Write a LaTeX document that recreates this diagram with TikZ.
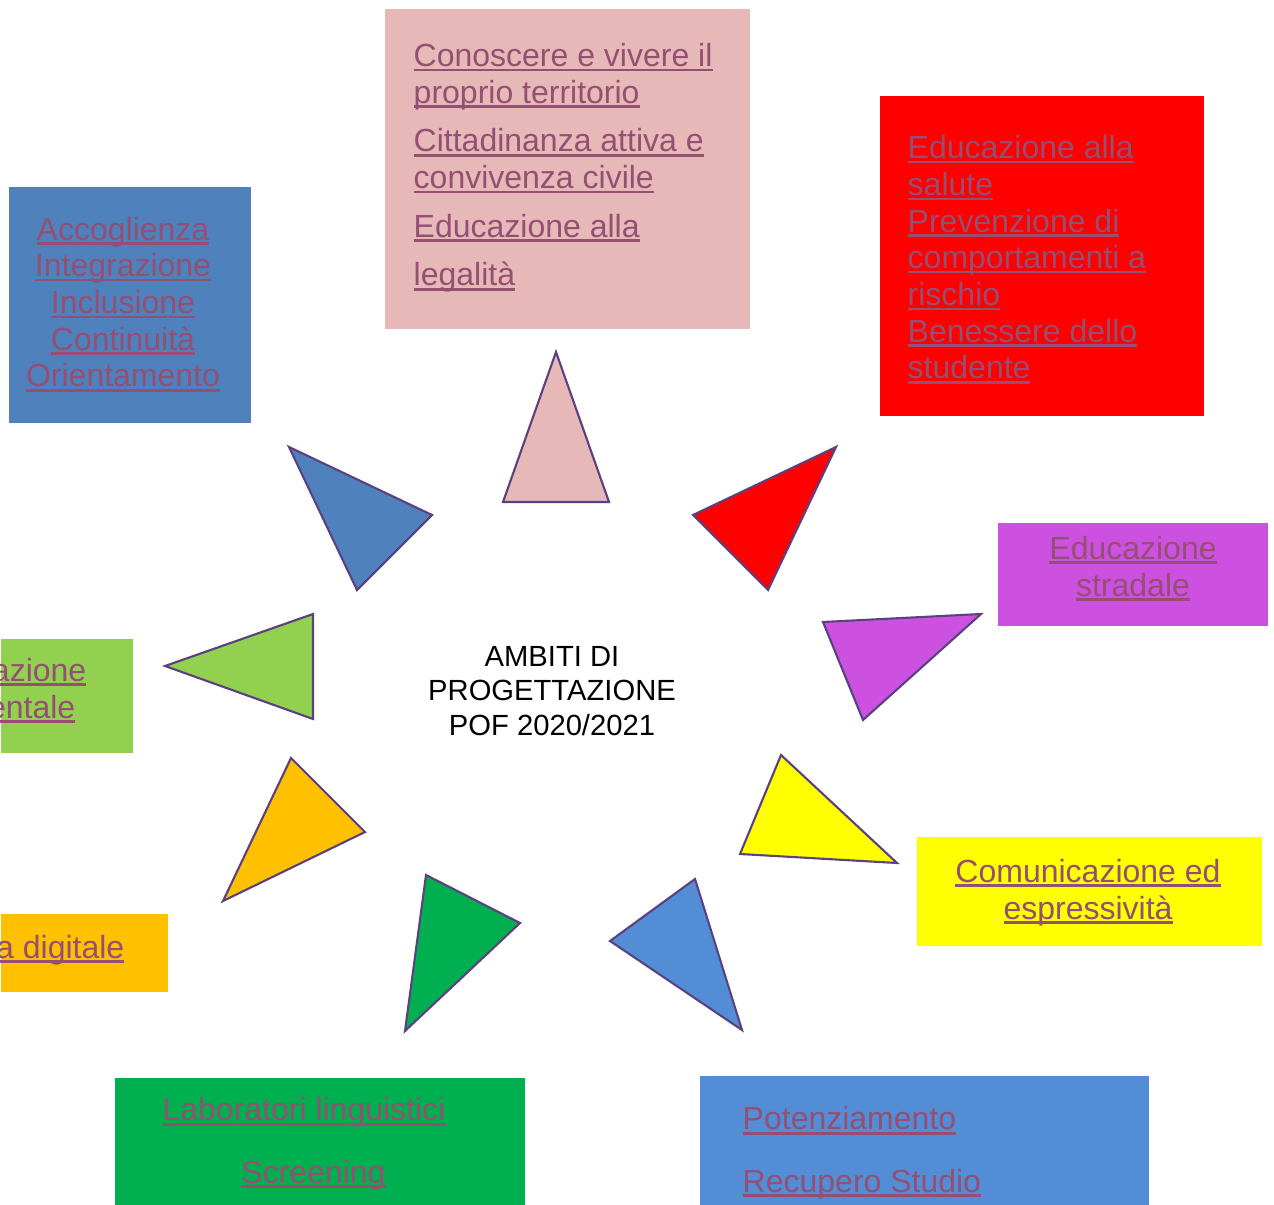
\documentclass[tikz,border=0pt]{standalone}
\usepackage{fontspec}
\setmainfont{Liberation Sans}
\usepackage{tikz}

\definecolor{linkcol}{HTML}{954F72}
\definecolor{trioutline}{HTML}{5B4180}
\definecolor{rosa}{HTML}{E6B8B7}
\definecolor{rosso}{HTML}{FF0000}
\definecolor{blu}{HTML}{4F81BD}
\definecolor{viola}{HTML}{CD51E1}
\definecolor{giallo}{HTML}{FFFF00}
\definecolor{azzurro}{HTML}{538DD5}
\definecolor{verde}{HTML}{00B050}
\definecolor{arancio}{HTML}{FFC000}
\definecolor{verdechiaro}{HTML}{92D050}

% underlined link text, one line at a time
\newcommand\ulink[1]{\leavevmode\setbox0\hbox{#1}\rlap{\rule[-0.145em]{\wd0}{0.08em}}\box0}

\begin{document}
\begin{tikzpicture}[x=0.01cm,y=-0.01cm,
    box/.style={inner sep=0pt,anchor=north west},
    linktext/.style={text=linkcol,inner sep=0pt,font=\fontsize{9.1}{10.44}\selectfont},
    tri/.style={draw=trioutline,line width=0.6pt,line join=miter}]
  \useasboundingbox (0,0) rectangle (1274,1204);

  % boxes
  \node[box,fill=rosa,minimum width=3.65cm,minimum height=3.2cm] (territorio) at (384,8) {};
  \node[box,fill=rosso,minimum width=3.24cm,minimum height=3.2cm] (salute) at (879,95) {};
  \node[box,fill=blu,minimum width=2.42cm,minimum height=2.36cm] (accoglienza) at (8,186) {};
  \node[box,fill=viola,minimum width=2.70cm,minimum height=1.03cm] (stradale) at (997,522) {};
  \node[box,fill=giallo,minimum width=3.45cm,minimum height=1.09cm] (comunicazione) at (916,836) {};
  \node[box,fill=azzurro,minimum width=4.49cm,minimum height=1.29cm] (potenziamento) at (699,1075) {};
  \node[box,fill=verde,minimum width=4.10cm,minimum height=1.27cm] (laboratori) at (114,1077) {};
  \node[box,fill=arancio,minimum width=1.67cm,minimum height=0.78cm] (digitale) at (0,913) {};
  \node[box,fill=verdechiaro,minimum width=1.32cm,minimum height=1.14cm] (ambientale) at (0,638) {};

  % texts (anchored on the baseline of their last line)
  \node[linktext,align=left,anchor=base west] (territorio-t) at (413,286)
    {\ulink{Conoscere e vivere il}\\\ulink{proprio territorio}\\[3.4pt]
     \ulink{Cittadinanza attiva e}\\\ulink{convivenza civile}\\[3.4pt]
     \ulink{Educazione alla}\\[3.4pt]\ulink{legalità}};
  \node[linktext,align=left,anchor=base west] (salute-t) at (907,379)
    {\ulink{Educazione alla}\\\ulink{salute}\\\ulink{Prevenzione di}\\
     \ulink{comportamenti a}\\\ulink{rischio}\\\ulink{Benessere dello}\\\ulink{studente}};
  \node[linktext,align=center,anchor=base] (accoglienza-t) at (123,387)
    {\ulink{Accoglienza}\\\ulink{Integrazione}\\\ulink{Inclusione}\\\ulink{Continuità}\\\ulink{Orientamento}};
  \node[linktext,align=center,anchor=base] (stradale-t) at (1133,596)
    {\ulink{Educazione}\\\ulink{stradale}};
  \node[linktext,align=center,anchor=base] (comunicazione-t) at (1088,919)
    {\ulink{Comunicazione ed}\\\ulink{espressività}};
  \node[linktext,align=left,anchor=base west] (potenziamento-t) at (742,1192)
    {\ulink{Potenziamento}\\[7.2pt]\ulink{Recupero Studio}};
  \node[linktext,align=center,anchor=base] (laboratori-t) at (304,1183)
    {\ulink{Laboratori linguistici}\\[7.2pt]\hspace*{0.19cm}\ulink{Screening}};
  \node[linktext,anchor=base east] (digitale-t) at (125,958) {\ulink{a digitale}};
  \node[linktext,align=right,anchor=base east] (ambientale-t) at (87,718)
    {\ulink{azione}\\\ulink{entale}\hspace*{0.11cm}};

  \node[inner sep=0pt,align=center,anchor=base,font=\fontsize{8.3}{9.67}\selectfont] (ambiti) at (552,735)
    {AMBITI DI\\PROGETTAZIONE\\POF 2020/2021};

  % triangles
  \filldraw[tri,fill=rosa] (556,352) -- (609,502) -- (503,502) -- cycle;
  \filldraw[tri,fill=blu] (289,447) -- (432,515) -- (357,590) -- cycle;
  \filldraw[tri,fill=rosso] (836,447) -- (693,515) -- (768,590) -- cycle;
  \filldraw[tri,fill=viola] (823,622) -- (981,614) -- (863,720) -- cycle;
  \filldraw[tri,fill=giallo] (781,755) -- (897,863) -- (740,854) -- cycle;
  \filldraw[tri,fill=azzurro] (695,879) -- (742,1030) -- (610,941) -- cycle;
  \filldraw[tri,fill=verde] (426,875) -- (520,923) -- (405,1031) -- cycle;
  \filldraw[tri,fill=arancio] (291,758) -- (365,832) -- (223,901) -- cycle;
  \filldraw[tri,fill=verdechiaro] (165,666) -- (313,614) -- (313,719) -- cycle;
\end{tikzpicture}
\end{document}
